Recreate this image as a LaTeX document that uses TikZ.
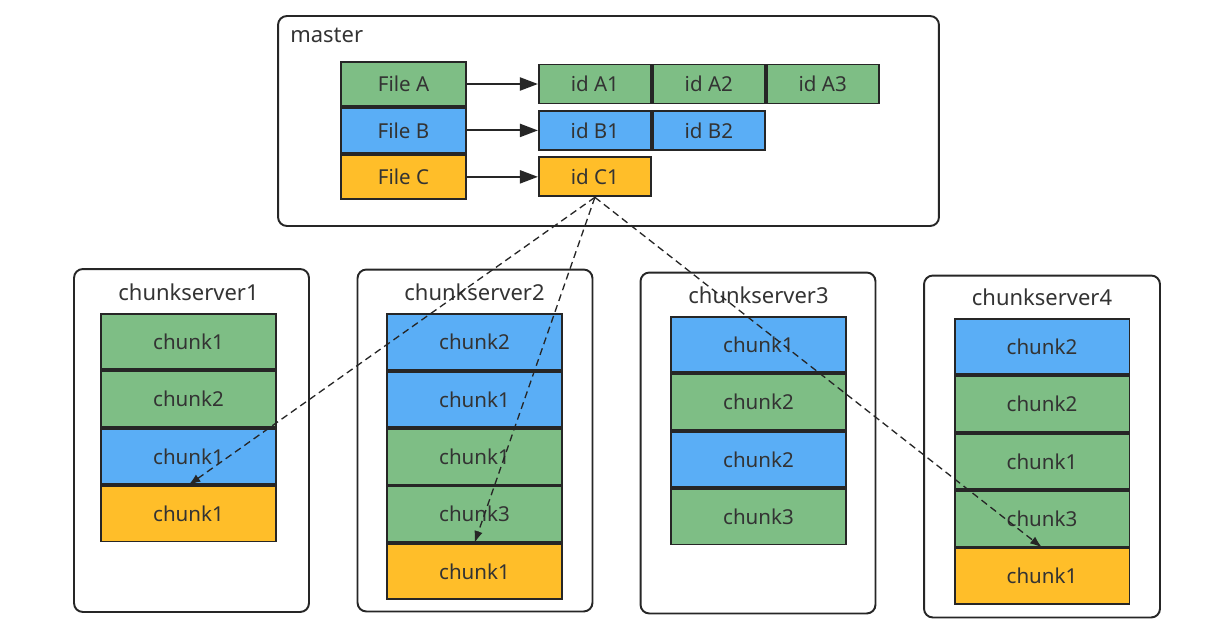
\documentclass[tikz,border=0pt]{standalone}
\usepackage{fontspec}
\setmainfont{Noto Sans}
\usetikzlibrary{arrows.meta,positioning}
\definecolor{cGrn}{RGB}{126,190,133}
\definecolor{cBlu}{RGB}{ 90,174,246}
\definecolor{cYel}{RGB}{255,190, 41}
\definecolor{cLine}{RGB}{ 38, 38, 38}
\definecolor{cTxt}{RGB}{ 51, 51, 51}
\tikzset{
  panel/.style ={draw=cLine,line width=1.1pt,rounded corners=5pt,fill=white},
  cell/.style  ={draw=cLine,line width=1.1pt,text=cTxt,inner sep=0pt,
                 font=\fontsize{11.7}{13}\selectfont},
  file/.style  ={cell,minimum width=2.50cm,minimum height=0.89cm},
  cid/.style   ={cell,minimum width=2.24cm,minimum height=0.78cm},
  chk/.style   ={cell,minimum width=3.50cm,minimum height=1.11cm},
  grn/.style   ={fill=cGrn},
  blu/.style   ={fill=cBlu},
  yel/.style   ={fill=cYel},
  ttl/.style   ={text=cTxt,inner sep=0pt,font=\fontsize{12.5}{14}\selectfont},
  fl/.style    ={-{Triangle[length=3.6mm,width=2.6mm]},draw=cLine,line width=1.2pt},
  rep/.style   ={-{Latex[length=2.4mm,width=1.7mm]},draw=cLine,line width=0.75pt,
                 dash pattern=on 4pt off 2.5pt},
}

\begin{document}
\begin{tikzpicture}[x=0.02cm,y=-0.02cm]
\path[use as bounding box,fill=white] (0,0) rectangle (1219,632);

%% ================= master =============================================
\node[panel,minimum width=13.22cm,minimum height=4.20cm] (master) at (608.5,121) {};
\node[ttl,anchor=west] (mlbl) at (290,35) {master};

\node[file,grn] (fa) at (403.5,84) {File A};
\node[file,blu,below=0pt of fa] (fb) {File B};
\node[file,yel,below=0pt of fb] (fc) {File C};

\node[cid,grn,right=1.42cm of fa] (ia1) {id A1};
\node[cid,grn,right=0pt of ia1]   (ia2) {id A2};
\node[cid,grn,right=0pt of ia2]   (ia3) {id A3};
\node[cid,blu,right=1.42cm of fb] (ib1) {id B1};
\node[cid,blu,right=0pt of ib1]   (ib2) {id B2};
\node[cid,yel,right=1.42cm of fc] (ic1) {id C1};

\draw[fl] (fa) -- (ia1);
\draw[fl] (fb) -- (ib1);
\draw[fl] (fc) -- (ic1);

%% ================= chunkservers =======================================
\node[panel,minimum width=4.70cm,minimum height=6.86cm] (cs1) at (191.5,440.5) {};
\node[panel,minimum width=4.70cm,minimum height=6.84cm] (cs2) at (475,440.5) {};
\node[panel,minimum width=4.70cm,minimum height=6.82cm] (cs3) at (758,443) {};
\node[panel,minimum width=4.72cm,minimum height=6.84cm] (cs4) at (1042,446.5) {};

% chunkserver1
\node[chk,grn] (s1c1) at (188.5,341.5) {chunk1};
\node[chk,grn,below=0pt of s1c1] (s1c2) {chunk2};
\node[chk,blu,below=0pt of s1c2] (s1c3) {chunk1};
\node[chk,yel,below=0pt of s1c3] (s1c4) {chunk1};
\node[ttl,above=0.24cm of s1c1] (l1) {chunkserver1};

% chunkserver2
\node[chk,blu] (s2c1) at (474.5,342) {chunk2};
\node[chk,blu,below=0pt of s2c1] (s2c2) {chunk1};
\node[chk,grn,below=0pt of s2c2] (s2c3) {chunk1};
\node[chk,grn,below=0pt of s2c3] (s2c4) {chunk3};
\node[chk,yel,below=0pt of s2c4] (s2c5) {chunk1};
\node[ttl,above=0.24cm of s2c1] (l2) {chunkserver2};

% chunkserver3
\node[chk,blu] (s3c1) at (758.5,344.5) {chunk1};
\node[chk,grn,below=0pt of s3c1] (s3c2) {chunk2};
\node[chk,blu,below=0pt of s3c2] (s3c3) {chunk2};
\node[chk,grn,below=0pt of s3c3] (s3c4) {chunk3};
\node[ttl,above=0.24cm of s3c1] (l3) {chunkserver3};

% chunkserver4
\node[chk,blu] (s4c1) at (1042,346.5) {chunk2};
\node[chk,grn,below=0pt of s4c1] (s4c2) {chunk2};
\node[chk,grn,below=0pt of s4c2] (s4c3) {chunk1};
\node[chk,grn,below=0pt of s4c3] (s4c4) {chunk3};
\node[chk,yel,below=0pt of s4c4] (s4c5) {chunk1};
\node[ttl,above=0.24cm of s4c1] (l4) {chunkserver4};

%% ================= replicas of id C1 ==================================
\draw[rep] (ic1.south) -- (s1c4.north);
\draw[rep] (ic1.south) -- (s2c5.north);
\draw[rep] (ic1.south) -- (s4c5.north);

\end{tikzpicture}
\end{document}
